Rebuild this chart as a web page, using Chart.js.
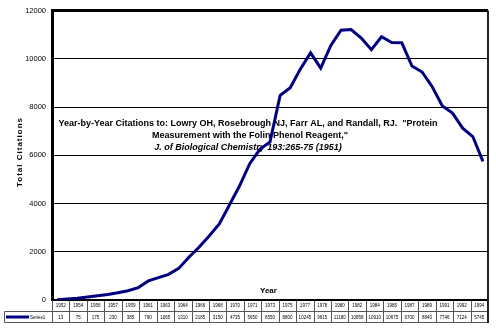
<!DOCTYPE html>
<html>
<head>
<meta charset="utf-8">
<script src="https://cdn.jsdelivr.net/npm/chart.js@4/dist/chart.umd.min.js"></script>
<style>
  html, body { margin: 0; padding: 0; background: #fff; }
  #wrap { position: relative; width: 496px; height: 334px; }
</style>
</head>
<body>
<div id="wrap"><canvas id="c" width="496" height="334"></canvas></div>
<script>
// Yearly citation counts, 1952-1994
const years = [1952,1953,1954,1955,1956,1957,1958,1959,1960,1961,1962,1963,1964,1965,1966,
  1967,1968,1969,1970,1971,1972,1973,1974,1975,1976,1977,1978,1979,1980,1981,1982,1983,
  1984,1985,1986,1987,1988,1989,1990,1991,1992,1993,1994];
const citations = [13,40,75,125,175,230,300,385,510,790,925,1065,1310,1770,2185,
  2655,3150,3940,4735,5650,6245,6550,8480,8800,9580,10245,9615,10550,11180,11213,10858,10375,
  10910,10675,10660,9700,9450,8840,8040,7746,7124,6775,5745];
// Years listed in the data table under the plot
const tableYears = [1952,1954,1956,1957,1959,1961,1963,1964,1966,1968,1970,1971,1973,
  1975,1977,1978,1980,1982,1984,1985,1987,1989,1991,1992,1994];
const yTicks = [0,2000,4000,6000,8000,10000,12000];
const seriesName = 'Series1';
const titleLines = [
  'Year-by-Year Citations to: Lowry OH, Rosebrough NJ, Farr AL, and Randall, RJ.  "Protein',
  'Measurement with the Folin Phenol Reagent,"',
  'J. of Biological Chemistry 193:265-75 (1951)'
];

const tableValues = tableYears.map(y => citations[years.indexOf(y)]);
const FONT = '"Liberation Sans", Arial, sans-serif';
const NAVY = '#000080';

// Annotation text box and axis titles
const textPlugin = {
  id: 'citeText',
  beforeDatasetsDraw(chart) {
    const ctx = chart.ctx;
    ctx.save();
    ctx.fillStyle = '#000';
    ctx.textAlign = 'center';
    ctx.textBaseline = 'alphabetic';
    ctx.font = 'bold 9px ' + FONT;
    ctx.fillText(titleLines[0], 248, 126);
    ctx.fillText(titleLines[1], 250, 138);
    ctx.font = 'italic bold 9px ' + FONT;
    ctx.fillText(titleLines[2], 248, 150);
    // x axis title
    ctx.font = 'bold 8px ' + FONT;
    ctx.textAlign = 'left';
    ctx.fillText('Year', 260, 293);
    // y axis title
    ctx.translate(22, 152);
    ctx.rotate(-Math.PI / 2);
    ctx.textAlign = 'center';
    ctx.letterSpacing = '1px';
    ctx.fillText('Total Citations', 0, 0);
    ctx.restore();
  }
};

// Data table drawn under the plot, columns taken from the 'tbl' scale
const tablePlugin = {
  id: 'dataTable',
  afterDraw(chart) {
    const ctx = chart.ctx;
    const a = chart.chartArea;
    const t = chart.scales.tbl;
    const n = tableYears.length;
    const half = (a.right - a.left) / n / 2;
    const yTop = Math.round(a.bottom) + 0.5;
    const yMid = 311.5, yBot = 322.5, xKey = 4.5;
    ctx.save();
    // cell lines
    ctx.strokeStyle = '#555';
    ctx.lineWidth = 1;
    ctx.beginPath();
    for (let k = 0; k <= n; k++) {
      const c = k < n ? t.getPixelForValue(k) - half : t.getPixelForValue(n - 1) + half;
      const x = Math.round(c) + 0.5;
      ctx.moveTo(x, yTop);
      ctx.lineTo(x, yBot);
    }
    ctx.moveTo(xKey, yMid); ctx.lineTo(a.right, yMid);
    ctx.moveTo(xKey, yBot); ctx.lineTo(a.right, yBot);
    ctx.moveTo(xKey, yMid); ctx.lineTo(xKey, yBot);
    ctx.stroke();
    // right edge of the plot frame
    ctx.strokeStyle = '#222';
    ctx.lineWidth = 2;
    ctx.beginPath();
    ctx.moveTo(a.right, a.top);
    ctx.lineTo(a.right, yBot + 0.5);
    ctx.stroke();
    // legend key
    ctx.strokeStyle = NAVY;
    ctx.lineWidth = 3;
    ctx.beginPath();
    ctx.moveTo(6, 317);
    ctx.lineTo(29, 317);
    ctx.stroke();
    ctx.fillStyle = '#000';
    ctx.font = '4.5px ' + FONT;
    ctx.textBaseline = 'middle';
    ctx.textAlign = 'left';
    ctx.fillText(seriesName, 30, 317.5);
    // year row and value row
    ctx.textAlign = 'center';
    tableYears.forEach((y, k) => {
      const x = t.getPixelForValue(k);
      ctx.fillText(String(y), x, 306);
      ctx.fillText(String(tableValues[k]), x, 317.5);
    });
    ctx.restore();
  }
};

new Chart(document.getElementById('c'), {
  type: 'line',
  data: {
    labels: years,
    datasets: [{
      label: seriesName,
      data: citations,
      borderColor: NAVY,
      backgroundColor: NAVY,
      borderWidth: 3,
      pointRadius: 0,
      tension: 0,
      fill: false,
      xAxisID: 'x',
      yAxisID: 'y'
    }]
  },
  options: {
    responsive: false,
    animation: false,
    devicePixelRatio: 1,
    layout: { padding: { top: 10, right: 8, bottom: 34, left: 0 } },
    plugins: { legend: { display: false }, tooltip: { enabled: false } },
    scales: {
      x: { type: 'category', display: false, offset: true },
      tbl: { type: 'category', labels: tableYears, display: false, offset: true,
             position: 'bottom', ticks: { autoSkip: false } },
      y: {
        min: 0, max: 12000,
        afterBuildTicks: s => { s.ticks = yTicks.map(v => ({ value: v })); },
        afterFit: s => { s.width = 52; },
        ticks: { color: '#000', font: { size: 7.5, family: FONT }, padding: 6,
                 callback: v => String(v) },
        grid: {
          color: '#000',
          drawTicks: false,
          lineWidth: c => (c.tick && c.tick.value === 12000) ? 3 : (c.tick && c.tick.value === 0 ? 2 : 1)
        },
        border: { color: '#000', width: 3 }
      }
    }
  },
  plugins: [textPlugin, tablePlugin]
});
</script>
</body>
</html>
